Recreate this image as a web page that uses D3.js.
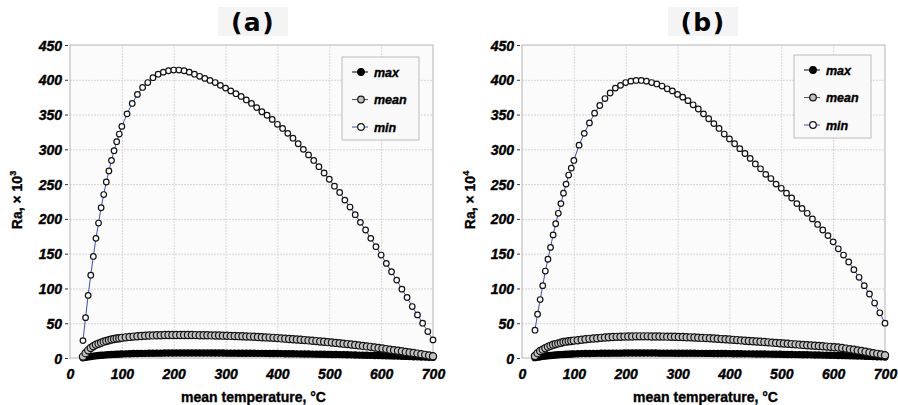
<!DOCTYPE html>
<html>
<head>
<meta charset="utf-8">
<script src="https://cdn.jsdelivr.net/npm/d3@7/dist/d3.min.js"></script>
<style>
body { margin: 0; background: #fff; }
svg { display: block; }
.tick text { font-family: "Liberation Sans", Arial, sans-serif; font-weight: bold; font-style: italic; font-size: 14px; fill: #000; stroke: #000; stroke-width: 0.4px; }
.heavy { stroke: #000; stroke-width: 0.35px; }
</style>
</head>
<body>
<svg id="chart" width="898" height="405"></svg>
<script>
// temperatures (°C) of the min curve points
var tempMin = [25,30,35,40,45,50,55,60,65,70,75,80,85,90,95,100,
    110,120,130,140,150,160,170,180,190,200,210,220,230,240,250,260,
    270,280,290,300,310,320,330,340,350,360,370,380,390,400,410,420,
    430,440,450,460,470,480,490,500,510,520,530,540,550,560,570,580,
    590,600,610,620,630,640,650,660,670,680,690,700];
// temperatures (°C) of the mean / max curve points
var tempAvg = [25,30,35,40,45,50,55,60,65,70,75,80,85,90,95,100,
    107.5,115,122.5,130,137.5,145,152.5,160,167.5,175,182.5,190,197.5,205,212.5,220,
    227.5,235,242.5,250,257.5,265,272.5,280,287.5,295,302.5,310,317.5,325,332.5,340,
    347.5,355,362.5,370,377.5,385,392.5,400,407.5,415,422.5,430,437.5,445,452.5,460,
    467.5,475,482.5,490,497.5,505,512.5,520,527.5,535,542.5,550,557.5,565,572.5,580,
    587.5,595,602.5,610,617.5,625,632.5,640,647.5,655,662.5,670,677.5,685,692.5,700];

// panel (a), Ra x 10^3
var aMin = [25,58,90,119,146,172,194,216,235,253,269,284,298,311,322,333,
    351,366,379,389,396,403,408,411,413,414,414,413,411,408,405,402,
    399,396,392,388,384,380,376,371,366,360,354,349,343,336,330,323,
    316,308,300,292,284,275,266,257,247,238,227,217,206,195,184,172,
    160,148,136,124,112,99,87,74,62,50,38,26];
var aMean = [2,7,11,14.5,17,19,20.5,22,23.5,24.5,25.5,26.5,27.3,28,28.5,29,
    29.7,30.3,30.8,31.3,31.7,32,32.3,32.5,32.7,32.8,33,33,33,33,33,33,
    33,33,32.9,32.8,32.7,32.6,32.5,32.4,32.3,32.1,32,31.8,31.6,31.4,31.2,31,
    30.8,30.5,30.2,29.9,29.6,29.3,29,28.6,28.2,27.8,27.4,27,26.6,26.2,25.7,25.3,
    24.8,24.3,23.8,23.3,22.8,22.3,21.7,21.2,20.6,20,19.4,18.8,18.1,17.4,16.7,16,
    15.2,14.4,13.6,12.8,12,11.2,10.4,9.6,8.8,8,7.2,6.3,5.4,4.5,3.5,2.5];
var aMax = [0.3,1,1.6,2.2,2.7,3.1,3.5,3.9,4.2,4.5,4.8,5,5.2,5.4,5.6,5.8,
    6,6.2,6.4,6.5,6.6,6.7,6.8,6.9,7,7,7.1,7.1,7.1,7.2,7.2,7.2,
    7.2,7.2,7.2,7.2,7.2,7.2,7.1,7.1,7.1,7.1,7,7,7,6.9,6.9,6.9,
    6.8,6.8,6.7,6.7,6.6,6.5,6.5,6.4,6.3,6.2,6.2,6.1,6,5.9,5.8,5.7,
    5.6,5.5,5.4,5.3,5.2,5.1,5,4.9,4.8,4.6,4.5,4.4,4.2,4.1,4,3.8,
    3.7,3.5,3.4,3.2,3,2.9,2.7,2.5,2.3,2.1,1.9,1.7,1.5,1.3,1.1,0.9];

// panel (b), Ra x 10^4
var bMin = [40,63,84,104,125,142,159,177,193,208,222,237,250,263,273,284,
    306,323,338,352,363,373,381,388,392,396,398,399,399,398,396,394,
    391,387,384,379,375,370,364,358,351,344,337,330,322,315,308,301,
    294,287,279,272,264,258,250,244,237,230,222,215,208,200,192,184,
    176,167,157,148,138,127,116,104,92,79,65,50];
var bMean = [3,7,10,12,14,16,17.5,19,20,21,22,23,23.5,24,24.5,25,
    25.5,26.3,27,27.5,28,28.5,29,29.4,29.8,30.1,30.4,30.6,30.8,31,31,31.1,
    31.1,31.1,31.1,31,31,30.9,30.8,30.7,30.6,30.5,30.3,30.1,29.9,29.7,29.5,29.2,
    28.9,28.6,28.3,28,27.6,27.2,26.9,26.5,26.1,25.7,25.3,24.9,24.5,24.1,23.7,23.3,
    22.9,22.5,22.1,21.7,21.3,20.9,20.5,20,19.6,19.2,18.8,18.4,18,17.6,17.2,16.8,
    16.4,16,15.5,15,14.3,13.5,12.7,11.8,10.9,10,9,8,7,6,5,4];
var bMax = [0.5,1.2,1.8,2.4,2.9,3.3,3.7,4,4.3,4.6,4.9,5.1,5.3,5.5,5.7,5.9,
    6.1,6.3,6.4,6.5,6.6,6.7,6.8,6.9,6.9,7,7,7,7.1,7.1,7.1,7.1,
    7.1,7.1,7.1,7.1,7.1,7,7,7,7,6.9,6.9,6.9,6.8,6.8,6.8,6.7,
    6.7,6.6,6.6,6.5,6.5,6.4,6.4,6.3,6.2,6.2,6.1,6,6,5.9,5.8,5.7,
    5.7,5.6,5.5,5.4,5.3,5.2,5.1,5,4.9,4.8,4.7,4.6,4.5,4.4,4.3,4.2,
    4.1,4,3.8,3.7,3.5,3.4,3.2,3,2.9,2.7,2.5,2.3,2.1,1.9,1.7,1.5];

var xTicks = [0,100,200,300,400,500,600,700];
var yTicks = [0,50,100,150,200,250,300,350,400,450];
var seriesNames = ['max','mean','min'];

var svg = d3.select('#chart');

// marker styles per series
var styles = {
    max:  {fill: '#000', stroke: '#000', line: '#000', r: 3.1},
    mean: {fill: '#c2c2c2', stroke: '#111', line: '#555', r: 3.6},
    min:  {fill: '#fff', stroke: '#111', line: '#3b4db8', r: 2.8}
};

function zip(xs, ys) {
    var out = [];
    for (var i = 0; i < Math.min(xs.length, ys.length); i++) out.push([xs[i], ys[i]]);
    return out;
}

function drawPanel(p) {
    var x = d3.scaleLinear().domain([0, 700]).range([p.left, p.right]);
    var y = d3.scaleLinear().domain([0, 450]).range([358, 45]);

    // plot background
    svg.append('rect')
    .attr('x', p.left).attr('y', 45)
    .attr('width', p.right - p.left).attr('height', 313)
    .attr('fill', '#fbfbfb');

    // grid
    svg.append('g')
    .attr('transform', 'translate(0,358)')
    .call(d3.axisBottom(x).tickValues(xTicks.slice(1, -1)).tickSize(-313).tickFormat(''))
    .call(function (g) {
        g.select('.domain').remove();
        g.selectAll('line').attr('stroke', '#d6d6d6').attr('stroke-dasharray', '2,1');
    });
    svg.append('g')
    .attr('transform', 'translate(' + p.left + ',0)')
    .call(d3.axisLeft(y).tickValues(yTicks.slice(1, -1)).tickSize(-(p.right - p.left)).tickFormat(''))
    .call(function (g) {
        g.select('.domain').remove();
        g.selectAll('line').attr('stroke', '#d6d6d6').attr('stroke-dasharray', '2,1');
    });

    // border
    svg.append('rect')
    .attr('x', p.left).attr('y', 45)
    .attr('width', p.right - p.left).attr('height', 313)
    .attr('fill', 'none').attr('stroke', '#b4b4b4');

    // axes labels
    svg.append('g')
    .attr('transform', 'translate(0,365)')
    .call(d3.axisBottom(x).tickValues(xTicks).tickSize(0).tickPadding(4))
    .call(function (g) { g.select('.domain').remove(); });
    svg.append('g')
    .attr('transform', 'translate(' + (p.left - 2) + ',0)')
    .call(d3.axisLeft(y).tickValues(yTicks).tickSize(3).tickPadding(3))
    .call(function (g) {
        g.select('.domain').remove();
        g.selectAll('line').attr('stroke', '#333');
        g.selectAll('text').attr('dy', '0.36em');
    });

    // series
    var data = {max: zip(tempAvg, p.max), mean: zip(tempAvg, p.mean), min: zip(tempMin, p.min)};
    var line = d3.line().x(function (d) { return x(d[0]); }).y(function (d) { return y(d[1]); });
    seriesNames.forEach(function (name) {
        var s = styles[name];
        svg.append('path').datum(data[name])
        .attr('fill', 'none').attr('stroke', s.line).attr('stroke-width', 1)
        .attr('d', line);
        svg.append('g').selectAll('circle').data(data[name]).enter()
        .append('circle')
        .attr('cx', function (d) { return x(d[0]); })
        .attr('cy', function (d) { return y(d[1]); })
        .attr('r', s.r)
        .attr('fill', s.fill).attr('stroke', s.stroke).attr('stroke-width', 1.2);
    });

    // legend
    var lg = svg.append('g');
    lg.append('rect')
    .attr('x', p.legX).attr('y', p.legY).attr('width', 77).attr('height', 83)
    .attr('fill', '#f9f9f9').attr('stroke', '#bcbcbc');
    seriesNames.forEach(function (name, i) {
        var s = styles[name];
        var ly = p.legY + 15 + i * 27.5;
        lg.append('line')
        .attr('x1', p.legX + 10).attr('x2', p.legX + 26).attr('y1', ly).attr('y2', ly)
        .attr('stroke', s.line);
        lg.append('circle')
        .attr('cx', p.legX + 19).attr('cy', ly).attr('r', 3.3)
        .attr('fill', s.fill).attr('stroke', s.stroke).attr('stroke-width', 1.2);
        lg.append('text')
        .attr('class', 'heavy')
        .attr('x', p.legX + 32).attr('y', ly + 4.5)
        .attr('font-family', '"Liberation Sans", Arial, sans-serif')
        .attr('font-weight', 'bold').attr('font-style', 'italic').attr('font-size', 12.5)
        .text(name);
    });

    // titles
    var cx = (p.left + p.right) / 2;
    svg.append('rect')
    .attr('x', p.titleX - 35).attr('y', 7).attr('width', 70).attr('height', 29)
    .attr('fill', '#f4f4f4');
    svg.append('text')
    .attr('x', p.titleX).attr('y', 31)
    .attr('text-anchor', 'middle')
    .attr('font-family', '"DejaVu Sans", sans-serif').attr('font-weight', 'bold')
    .attr('font-size', 25).attr('letter-spacing', 1.5)
    .text(p.title);

    svg.append('text')
    .attr('class', 'heavy')
    .attr('x', cx + 2).attr('y', 402)
    .attr('text-anchor', 'middle')
    .attr('font-family', '"Liberation Sans", Arial, sans-serif').attr('font-weight', 'bold')
    .attr('font-size', 14)
    .text('mean temperature, °C');

    var yt = svg.append('text')
    .attr('class', 'heavy')
    .attr('transform', 'translate(' + p.yTitleX + ',200) rotate(-90)')
    .attr('text-anchor', 'middle')
    .attr('font-family', '"Liberation Sans", Arial, sans-serif').attr('font-weight', 'bold')
    .attr('font-size', 14);
    yt.append('tspan').text('Ra, × 10');
    yt.append('tspan').attr('dy', -6).attr('font-size', 9).text(p.exp);
}

drawPanel({left: 70, right: 433, title: '(a)', titleX: 253, exp: '3', yTitleX: 22,
    legX: 342, legY: 57, min: aMin, mean: aMean, max: aMax});
drawPanel({left: 522, right: 885, title: '(b)', titleX: 703, exp: '4', yTitleX: 475,
    legX: 794, legY: 55, min: bMin, mean: bMean, max: bMax});
</script>
</body>
</html>
